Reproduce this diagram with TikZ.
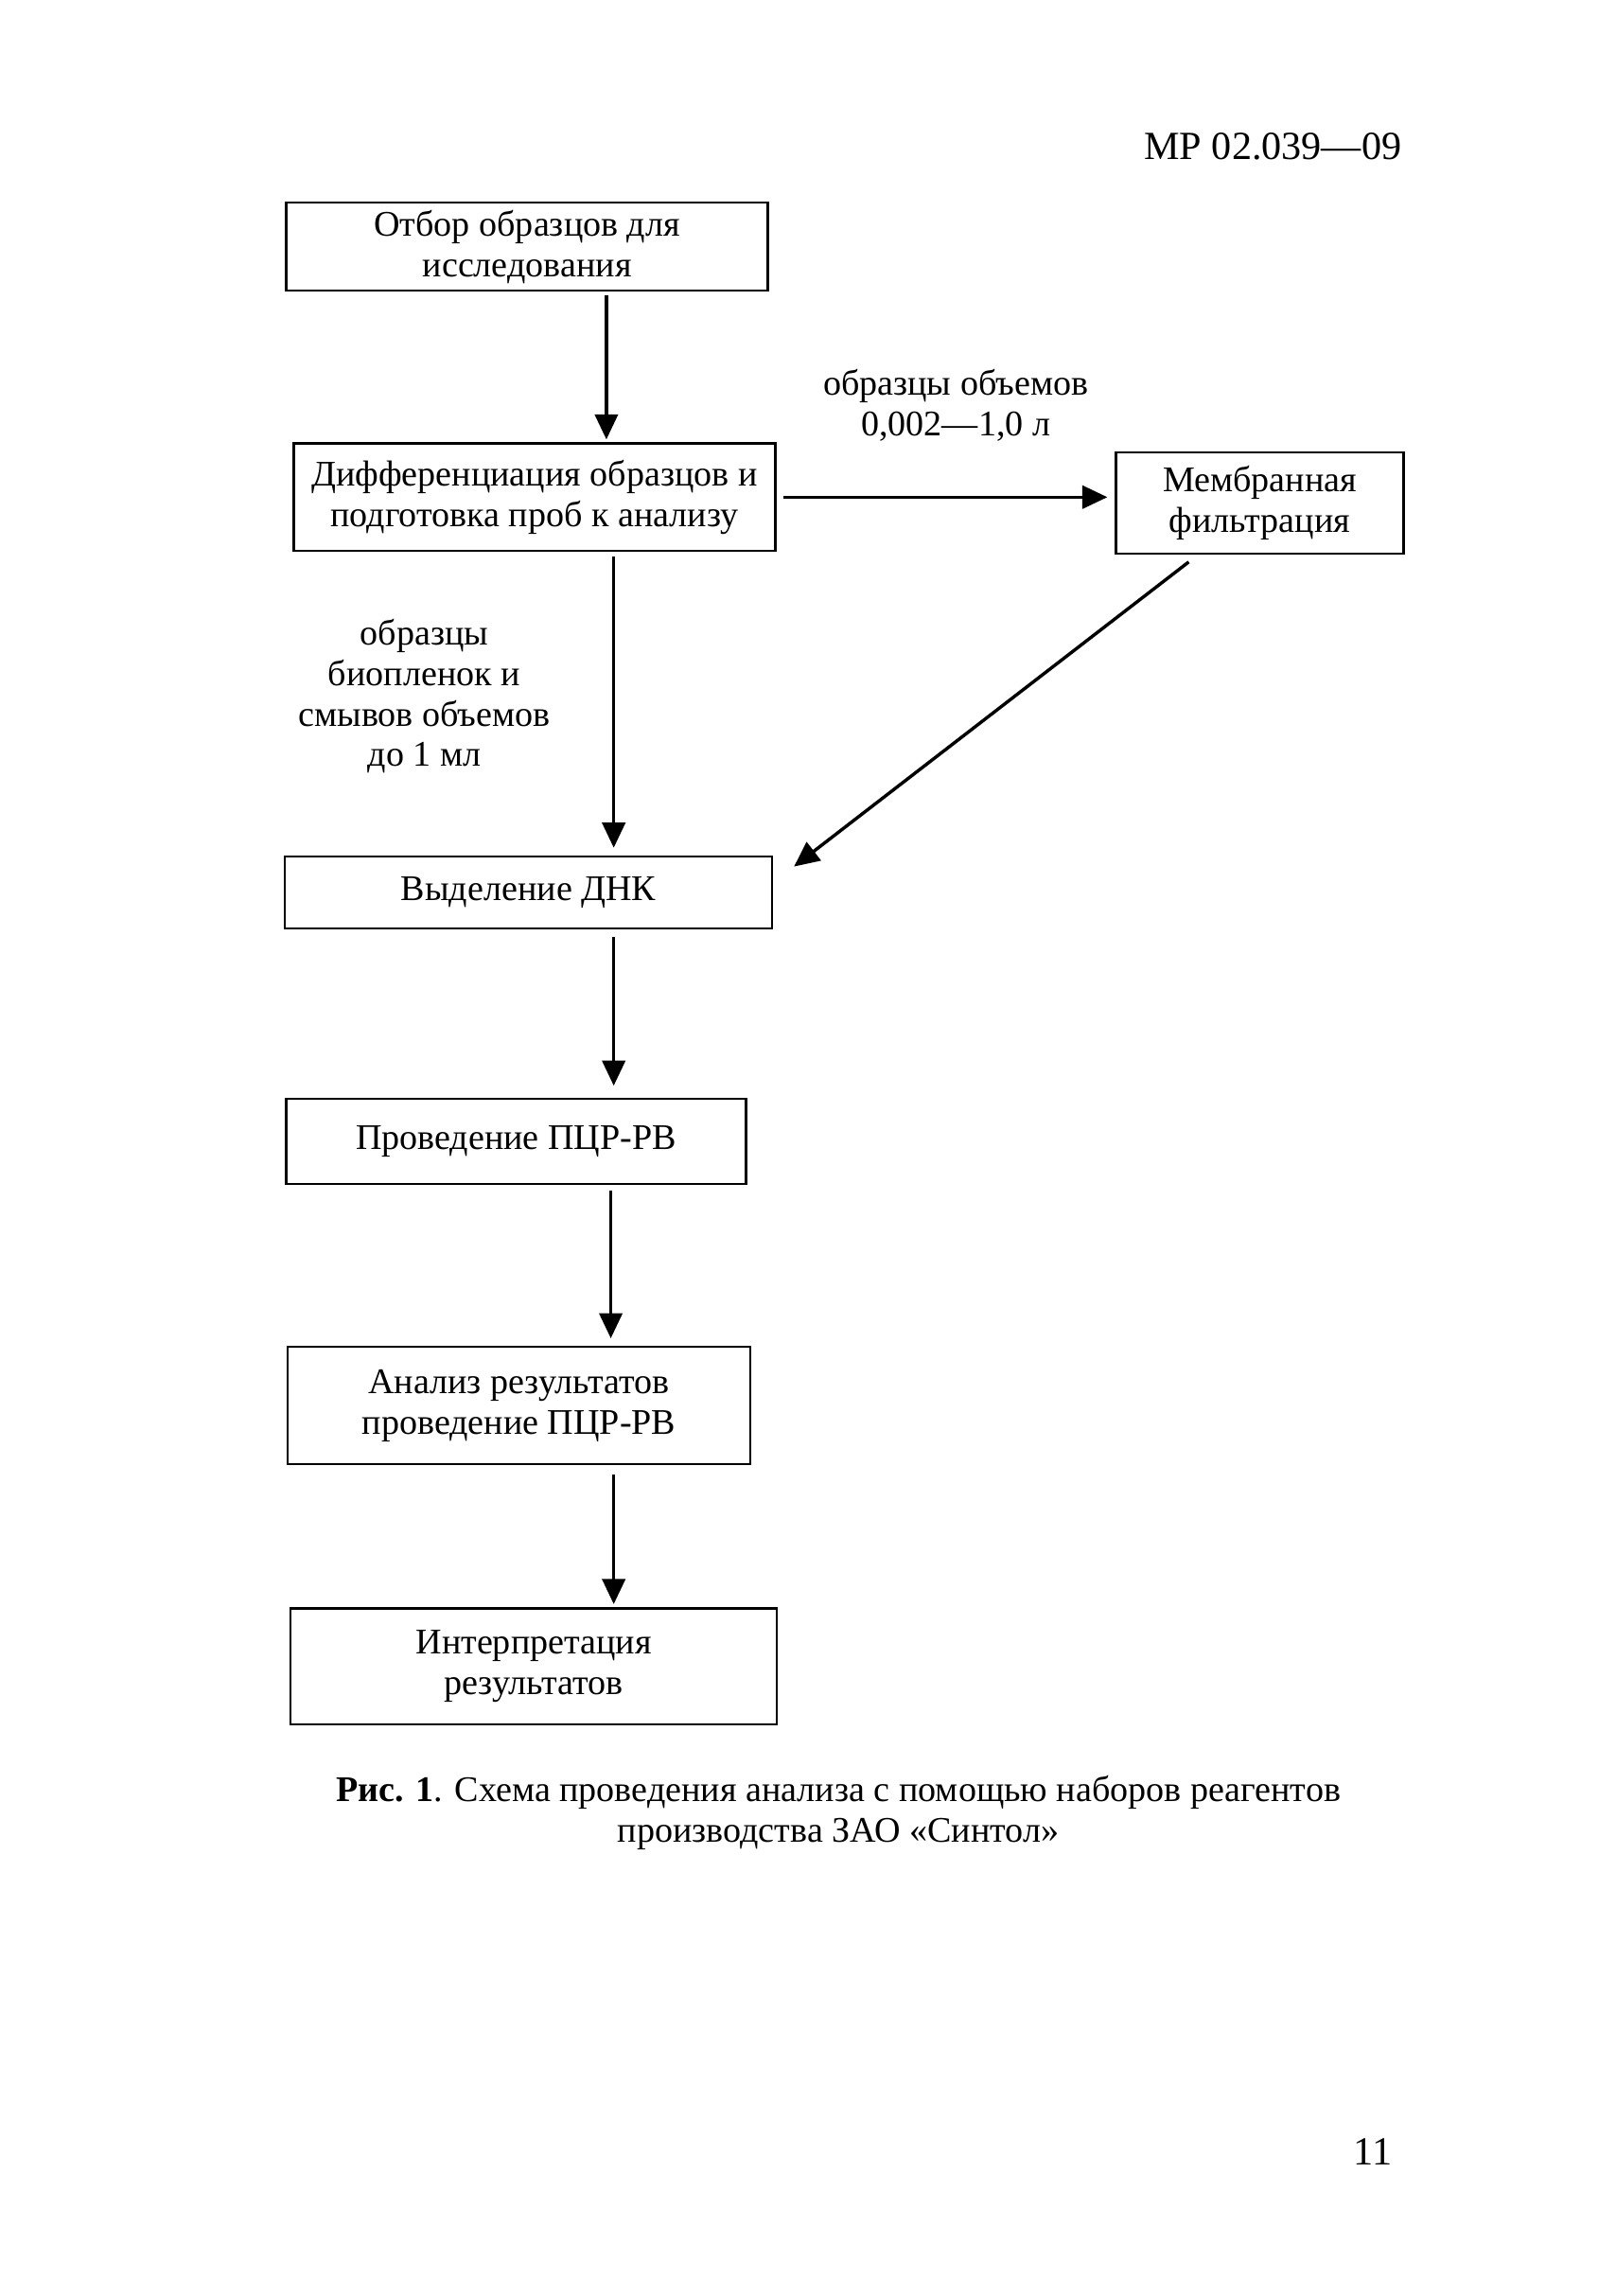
\documentclass[tikz,border=0pt]{standalone}
\usepackage{fontspec}
\setmainfont{Liberation Serif}
\usetikzlibrary{arrows.meta}
\begin{document}
\begin{tikzpicture}[x=0.134545mm,y=-0.134545mm,
  every node/.style={font=\fontsize{9.4}{10.6}\selectfont, inner sep=0pt},
  box/.style={draw, line width=0.6pt, align=center},
  lbl/.style={align=center},
  arr/.style={line width=0.85pt, -{Triangle[length=2.3mm,width=2.1mm]}}]
\useasboundingbox (0,0) rectangle (1100,1563.3);
% header and page number
\node[anchor=east, font=\fontsize{10.4}{12}\selectfont] (hdr) at (955,100) {МР 02.039—09};
\node[font=\fontsize{10.4}{12}\selectfont] (pg) at (935,1465) {11};
% boxes
\node[box, minimum width=328*0.134545mm, minimum height=60*0.134545mm] (A) at (359,168) {Отбор образцов для\\исследования};
\node[box, minimum width=328*0.134545mm, minimum height=73*0.134545mm] (B) at (364,338.5) {Дифференциация образцов и\\подготовка проб к анализу};
\node[box, minimum width=196*0.134545mm, minimum height=69*0.134545mm] (C) at (858,342.5) {Мембранная\\фильтрация};
\node[box, minimum width=332*0.134545mm, minimum height=49*0.134545mm] (D) at (360,607.5) {Выделение ДНК};
\node[box, minimum width=313*0.134545mm, minimum height=58*0.134545mm] (E) at (351.5,777) {Проведение ПЦР-РВ};
\node[box, minimum width=315*0.134545mm, minimum height=80*0.134545mm] (F) at (353.5,957) {Анализ результатов\\проведение ПЦР-РВ};
\node[box, minimum width=331*0.134545mm, minimum height=79*0.134545mm] (G) at (363.5,1134.5) {Интерпретация\\результатов};
% labels
\node[lbl] (l1) at (651,276) {образцы объемов\\0,002—1,0 л};
\node[lbl] (l2) at (289,474) {образцы\\биопленок и\\смывов объемов\\до 1 мл};
% caption
\node[lbl] (cap) at (571,1234) {\textbf{Рис. 1}. Схема проведения анализа с помощью наборов реагентов\\производства ЗАО «Синтол»};
% arrow x positions
\coordinate (xab) at (413,0);
\coordinate (xbd) at (418,0);
\coordinate (xde) at (418,0);
\coordinate (xef) at (416,0);
\coordinate (xfg) at (418,0);
% connectors
\draw[arr, shorten <=2*0.134545mm, shorten >=2*0.134545mm] (A.south -| xab) -- (B.north -| xab);
\draw[arr, shorten <=5*0.134545mm, shorten >=5*0.134545mm] (B.east) -- (B.east -| C.west);
\draw[arr, shorten <=3*0.134545mm, shorten >=5*0.134545mm] (B.south -| xbd) -- (D.north -| xbd);
\draw[arr, shorten <=3*0.134545mm] ([xshift=-46*0.134545mm,yshift=-3*0.134545mm]C.south) -- ([xshift=14*0.134545mm,yshift=17.5*0.134545mm]D.east);
\draw[arr, shorten <=5*0.134545mm, shorten >=8*0.134545mm] (D.south -| xde) -- (E.north -| xde);
\draw[arr, shorten <=4*0.134545mm, shorten >=5*0.134545mm] (E.south -| xef) -- (F.north -| xef);
\draw[arr, shorten <=6*0.134545mm, shorten >=2*0.134545mm] (F.south -| xfg) -- (G.north -| xfg);
\end{tikzpicture}
\end{document}
